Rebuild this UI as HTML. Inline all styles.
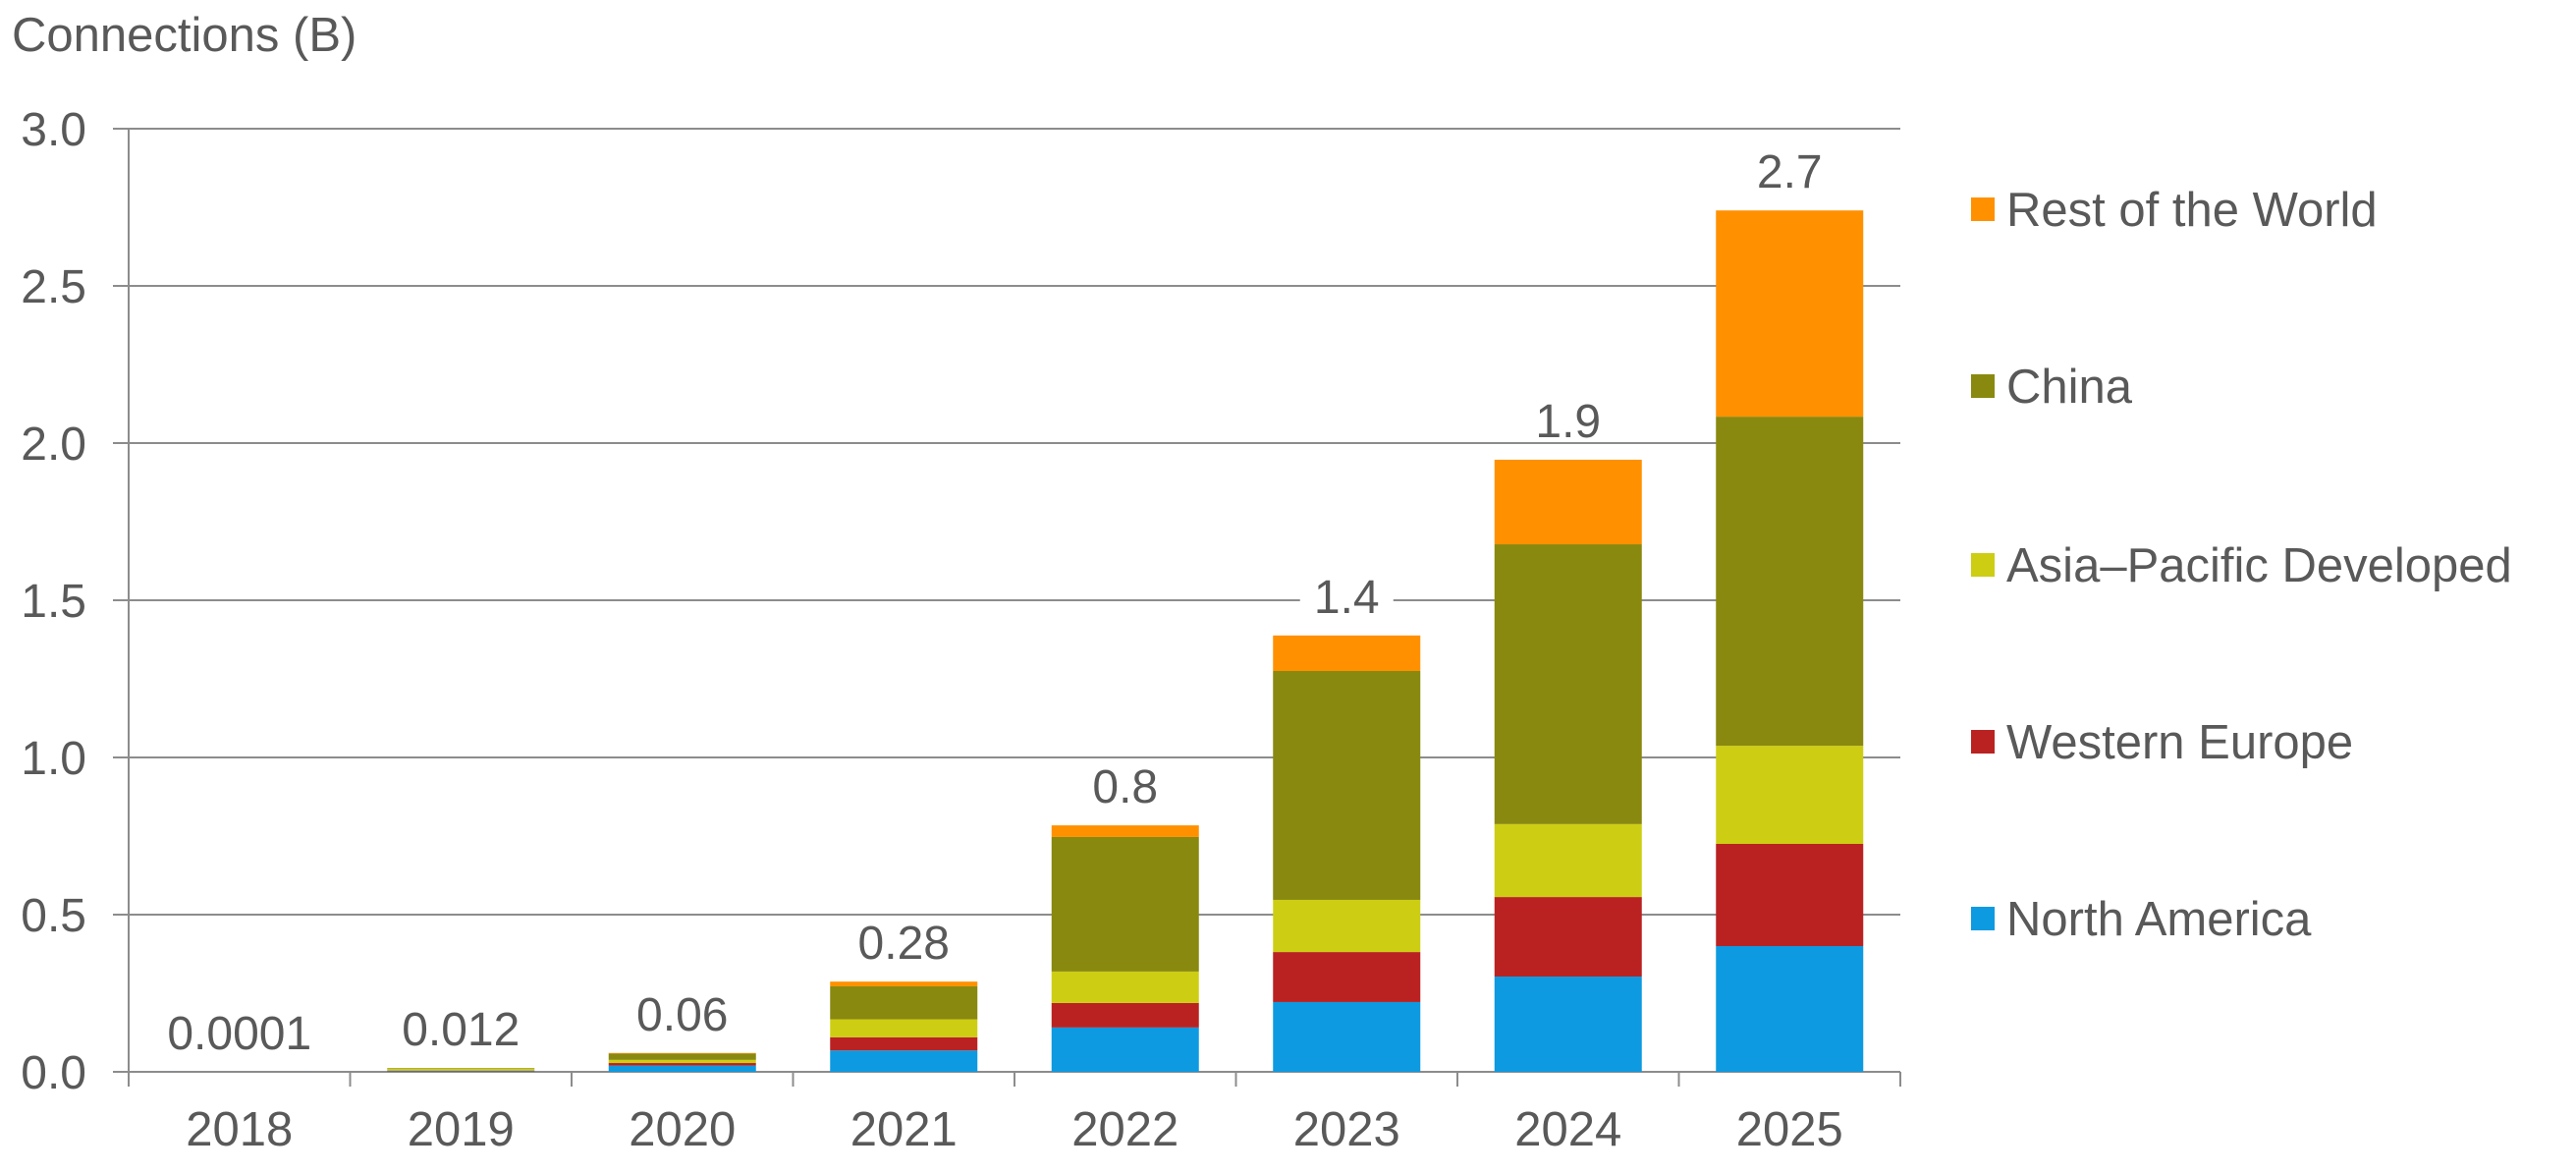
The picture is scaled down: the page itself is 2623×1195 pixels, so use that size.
<!DOCTYPE html>
<html><head><meta charset="utf-8"><style>
html,body{margin:0;padding:0;background:#fff;}
svg{display:block;font-family:"Liberation Sans",sans-serif;}
</style></head><body>
<svg id="chart" width="2623" height="1195" viewBox="0 0 2623 1195" xmlns="http://www.w3.org/2000/svg">
<text x="12" y="52" font-size="49" fill="#595959">Connections (B)</text>
<g id="grid"></g><g id="bars"></g><g id="labels"></g><g id="legend"></g>
</svg>
<script>
const categories=["2018","2019","2020","2021","2022","2023","2024","2025"];
const seriesNames=["North America","Western Europe","Asia\u2013Pacific Developed","China","Rest of the World"];
const northAmerica=[0.0001,0.002,0.02,0.068,0.141,0.222,0.303,0.40];
const westernEurope=[0,0.002,0.008,0.042,0.078,0.159,0.253,0.325];
const asiaPacific=[0,0.006,0.01,0.057,0.10,0.166,0.232,0.312];
const china=[0,0.002,0.02,0.105,0.428,0.728,0.89,1.047];
const restOfWorld=[0,0,0.002,0.015,0.037,0.113,0.269,0.656];
const totalLabels=["0.0001","0.012","0.06","0.28","0.8","1.4","1.9","2.7"];
const yTicks=[0,0.5,1.0,1.5,2.0,2.5,3.0];
const yTickLabels=["0.0","0.5","1.0","1.5","2.0","2.5","3.0"];
const colors=["#0E9AE0","#BA2222","#CDCD14","#89890F","#FF9100"];
const series=[northAmerica,westernEurope,asiaPacific,china,restOfWorld];
const NS="http://www.w3.org/2000/svg";
const L=131,R=1935,Y0=1091,Y3=131;
const y=v=>Y0-(v/3)*(Y0-Y3);
const band=(R-L)/categories.length;
const xc=i=>L+band*(i+0.5);
const BW=150;
function mk(t,a,p){const e=document.createElementNS(NS,t);for(const k in a)e.setAttribute(k,a[k]);p.appendChild(e);return e;}
const grid=document.getElementById('grid'),bars=document.getElementById('bars'),labels=document.getElementById('labels'),legend=document.getElementById('legend');
yTicks.forEach((t,i)=>{
 const ln=mk('line',{x1:115,x2:R,y1:y(t),y2:y(t),stroke:'#8c8c8c','stroke-width':2},grid);
 
 
 const tx=mk('text',{x:88,y:y(t)+17,'font-size':48,fill:'#595959','text-anchor':'end'},grid);
 tx.textContent=yTickLabels[i];
 
 
});
const ax=mk('line',{x1:L,x2:L,y1:Y3,y2:Y0+15,stroke:'#8c8c8c','stroke-width':2},grid);


for(let i=0;i<=categories.length;i++){
 const tk=mk('line',{x1:L+band*i,x2:L+band*i,y1:Y0,y2:Y0+15,stroke:'#8c8c8c','stroke-width':2},grid);
 
 
}
categories.forEach((c,i)=>{
 let cum=0;
 series.forEach((s,j)=>{
  const v=s[i];
  if(v>0){
   const r=mk('rect',{x:xc(i)-BW/2,y:y(cum+v),width:BW,height:y(cum)-y(cum+v),fill:colors[j]},bars);
   
   
  }
  cum+=v;
 });
 const top=y(cum);
 const tw=totalLabels[i].length*27+14;
 if(i===5){mk('rect',{x:xc(i)-tw/2,y:top-74,width:tw,height:54,fill:'#fff'},labels);}
 const vt=mk('text',{x:xc(i),y:top-23,'font-size':48,fill:'#595959','text-anchor':'middle'},labels);
 vt.textContent=totalLabels[i];
 
 
 const xt=mk('text',{x:xc(i),y:1166,'font-size':49,fill:'#595959','text-anchor':'middle'},labels);
 xt.textContent=c;
 
 
});
const legY=[935,755,575,393,213];
seriesNames.forEach((n,j)=>{
 const sq=mk('rect',{x:2007,y:legY[j]-12,width:24,height:24,fill:colors[j]},legend);
 
 
 const t=mk('text',{x:2043,y:legY[j]+17,'font-size':49,fill:'#595959'},legend);
 t.textContent=n;
 
 
});
</script>
</body></html>
